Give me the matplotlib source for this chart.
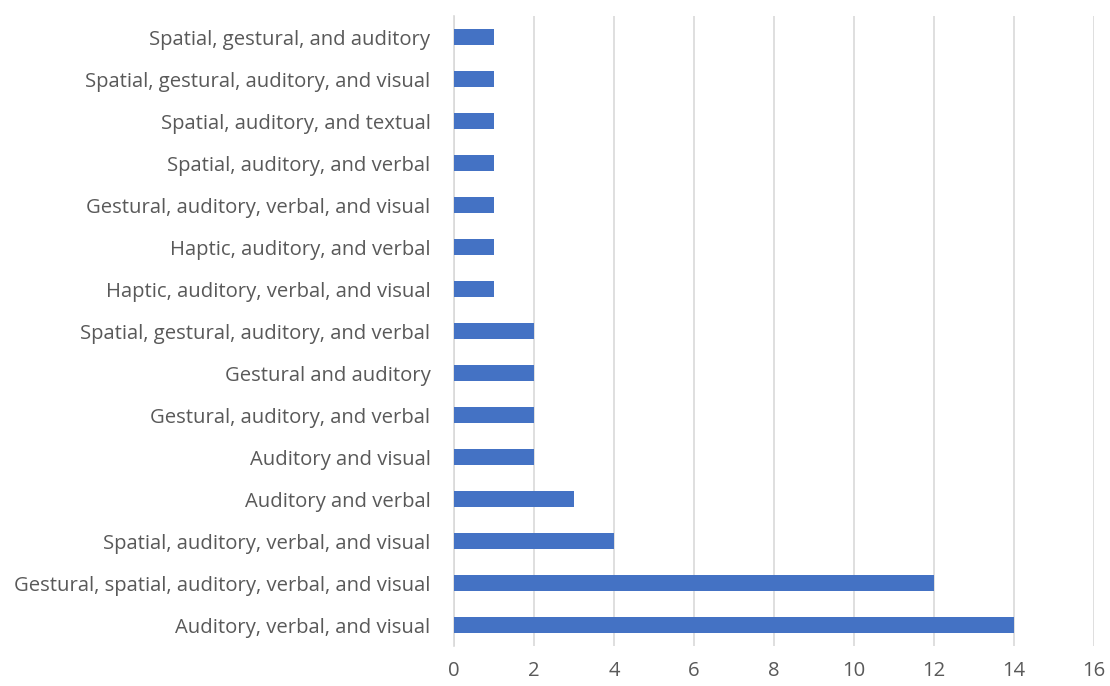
import matplotlib
matplotlib.use("Agg")
import matplotlib.pyplot as plt

categories = [
    "Auditory, verbal, and visual",
    "Gestural, spatial, auditory, verbal, and visual",
    "Spatial, auditory, verbal, and visual",
    "Auditory and verbal",
    "Auditory and visual",
    "Gestural, auditory, and verbal",
    "Gestural and auditory",
    "Spatial, gestural, auditory, and verbal",
    "Haptic, auditory, verbal, and visual",
    "Haptic, auditory, and verbal",
    "Gestural, auditory, verbal, and visual",
    "Spatial, auditory, and verbal",
    "Spatial, auditory, and textual",
    "Spatial, gestural, auditory, and visual",
    "Spatial, gestural, and auditory",
]
values = [14, 12, 4, 3, 2, 2, 2, 2, 1, 1, 1, 1, 1, 1, 1]
xticks = [0, 2, 4, 6, 8, 10, 12, 14, 16]

plt.rcParams['font.family'] = ['Open Sans', 'DejaVu Sans']
W, H = 1110, 686
fig = plt.figure(figsize=(W/100, H/100), dpi=100)
ax = fig.add_axes([454/W, 1-646/H, (1094-454)/W, (646-16)/H])

ypos = list(range(len(categories)))
ax.barh(ypos, values, height=0.36, color="#4472C4", zorder=3)
ax.set_ylim(-0.5, len(categories)-0.5)
ax.set_xlim(0, 16)
ax.set_xticks(xticks)
ax.set_xticklabels([str(t) for t in xticks])
ax.set_yticks(ypos)
ax.set_yticklabels(categories)
ax.grid(axis='x', color="#d9d9d9", linewidth=1.2, zorder=0)
for s in ['top', 'right', 'bottom']:
    ax.spines[s].set_visible(False)
ax.spines['left'].set_color("#d9d9d9")
ax.spines['left'].set_linewidth(1.2)
ax.tick_params(axis='both', length=0, colors="#595959", labelsize=14.6)
ax.tick_params(axis='y', pad=17)
ax.tick_params(axis='x', pad=11)

fig.savefig("out.png", dpi=100)
